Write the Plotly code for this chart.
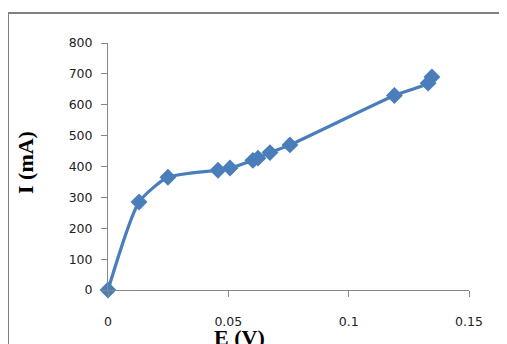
import plotly.graph_objects as go

E_V = [0, 0.0129, 0.0249, 0.0457, 0.0507, 0.0602, 0.0623, 0.0673, 0.0756, 0.119, 0.133, 0.1346]
I_mA = [0, 285, 365, 388, 395, 420, 427, 445, 470, 630, 670, 690]
x_ticks = [0, 0.05, 0.1, 0.15]
x_tick_labels = ["0", "0.05", "0.1", "0.15"]
y_ticks = [0, 100, 200, 300, 400, 500, 600, 700, 800]

blue = "#4A7EBB"
axis_gray = "#878787"
tick_font = dict(family="DejaVu Sans", size=12.5, color="#222222")

# page body has an 8px margin; plot area target: x 108..469, y 43..290 (window px)
PL, PT, PW, PH = 108, 43, 361, 247


def px(x):
    return (x - PL) / PW


def py(y):
    return (PT + PH - y) / PH


fig = go.Figure()
fig.add_trace(go.Scatter(
    x=E_V, y=I_mA, mode="lines+markers",
    line=dict(color=blue, width=3.2, shape="spline", smoothing=0.6),
    marker=dict(symbol="diamond", size=13, color=blue),
    cliponaxis=False, showlegend=False,
))

fig.update_layout(
    width=499, height=336,
    margin=dict(l=PL - 8, r=507 - PL - PW, t=PT - 8, b=344 - PT - PH),
    paper_bgcolor="white", plot_bgcolor="white",
    xaxis=dict(range=[0, 0.15], tickvals=x_ticks, ticktext=x_tick_labels,
               showgrid=False, zeroline=False, showline=True, linecolor=axis_gray,
               linewidth=1, ticks="outside", ticklen=6, tickcolor=axis_gray,
               tickfont=tick_font, ticklabelstandoff=14),
    yaxis=dict(range=[0, 800], tickvals=y_ticks,
               showgrid=False, zeroline=False, showline=True, linecolor=axis_gray,
               linewidth=1, ticks="outside", ticklen=6, tickcolor=axis_gray,
               tickfont=tick_font, ticklabelstandoff=6),
    shapes=[dict(type="rect", xref="paper", yref="paper",
                 x0=px(8), x1=px(560), y0=py(400), y1=py(13),
                 line=dict(color="#808080", width=2), fillcolor="rgba(0,0,0,0)",
                 layer="below")],
    annotations=[
        dict(text="<b>E (V)</b>", xref="paper", yref="paper",
             x=px(239), y=py(337), showarrow=False,
             xanchor="center", yanchor="middle",
             font=dict(family="Liberation Serif", size=22, color="black")),
        dict(text="<b>I (mA)</b>", xref="paper", yref="paper",
             x=px(25), y=py(163), showarrow=False,
             xanchor="center", yanchor="middle", textangle=-90,
             font=dict(family="Liberation Serif", size=22, color="black")),
    ],
)

fig.write_html("out.html")
